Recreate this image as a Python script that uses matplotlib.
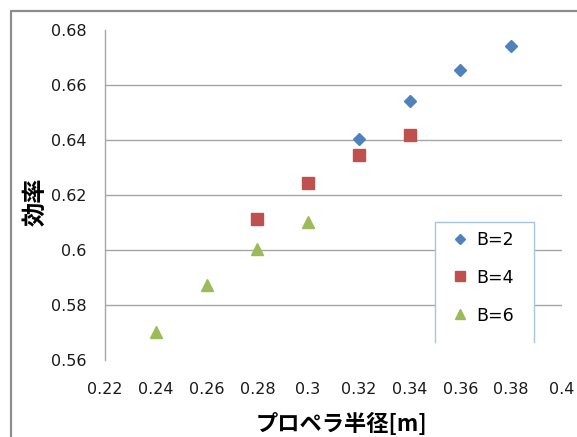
import matplotlib

matplotlib.use("Agg")
from matplotlib import pyplot as plt  # noqa: E402
from matplotlib.lines import Line2D  # noqa: E402
from matplotlib.patches import Rectangle  # noqa: E402

plt.rcParams["font.family"] = ["DejaVu Sans", "Noto Sans CJK JP"]

# efficiency vs. propeller radius, one series per blade count
radius_b2 = [0.32, 0.34, 0.36, 0.38]
eff_b2 = [0.6405, 0.6543, 0.6653, 0.6741]
radius_b4 = [0.28, 0.30, 0.32, 0.34]
eff_b4 = [0.6112, 0.6243, 0.6345, 0.6419]
radius_b6 = [0.24, 0.26, 0.28, 0.30]
eff_b6 = [0.5703, 0.5873, 0.6004, 0.6102]

series_labels = ["B=2", "B=4", "B=6"]
x_ticks = [0.22, 0.24, 0.26, 0.28, 0.30, 0.32, 0.34, 0.36, 0.38, 0.40]
x_tick_labels = ["0.22", "0.24", "0.26", "0.28", "0.3", "0.32", "0.34", "0.36", "0.38", "0.4"]
y_ticks = [0.56, 0.58, 0.60, 0.62, 0.64, 0.66, 0.68]
y_tick_labels = ["0.56", "0.58", "0.6", "0.62", "0.64", "0.66", "0.68"]

W, H = 577, 437
fig = plt.figure(figsize=(W / 100, H / 100), dpi=100)
ax = fig.add_axes([105 / W, 1 - 360 / H, 457 / W, 330 / H])

ax.set_xlim(x_ticks[0], x_ticks[-1])
ax.set_ylim(y_ticks[0], y_ticks[-1])

# inner horizontal gridlines only
ax.hlines(y_ticks[1:-1], x_ticks[0], x_ticks[-1], colors="#a6a6a6", linewidth=1.0, zorder=1)

ax.plot(radius_b2, eff_b2, linestyle="none", marker="D", ms=6.4, color="#4f81bd",
        label=series_labels[0], zorder=4)
ax.plot(radius_b4, eff_b4, linestyle="none", marker="s", ms=8.6, color="#c0504d",
        label=series_labels[1], zorder=4)
ax.plot(radius_b6, eff_b6, linestyle="none", marker="^", ms=9.0, color="#9bbb59",
        label=series_labels[2], zorder=4)

for side in ("top", "right", "bottom"):
    ax.spines[side].set_visible(False)
ax.spines["left"].set_color("#a6a6a6")
ax.spines["left"].set_linewidth(1.0)

ax.set_xticks(x_ticks, x_tick_labels)
ax.set_yticks(y_ticks, y_tick_labels)
ax.tick_params(axis="x", length=0, pad=16, labelsize=11.5, labelcolor="#1a1a1a")
ax.tick_params(axis="y", length=0, pad=13.5, labelsize=11.5, labelcolor="#1a1a1a")

cjk = ["Noto Sans CJK JP", "DejaVu Sans"]
ax.set_xlabel("プロペラ半径[m]", family=cjk, fontsize=16, fontweight="bold")
ax.xaxis.set_label_coords((341 - 105) / 457, (360 - 413) / 330)
ax.set_ylabel("効率", family=cjk, fontsize=17.5, fontweight="bold")
ax.yaxis.set_label_coords(-0.127, 0.48)

# legend box: white background, open at the bottom
lx0, lx1 = (435 - 105) / 457, (534 - 105) / 457
ly0, ly1 = (360 - 342) / 330, (360 - 222) / 330
ax.add_patch(Rectangle((lx0, ly0), lx1 - lx0, ly1 - ly0, transform=ax.transAxes,
                       facecolor="white", edgecolor="none", zorder=3))
ax.add_line(Line2D([lx0, lx0, lx1, lx1], [ly0, ly1, ly1, ly0], transform=ax.transAxes,
                   color="#a9c3e2", linewidth=1.0, zorder=3))
ax.legend(loc="upper left", bbox_to_anchor=(lx0 + 0.02, ly1 - 0.005), frameon=False,
          fontsize=12.5, markerscale=0.85, handlelength=1.0, handletextpad=0.45,
          labelspacing=1.15, borderaxespad=0.0)

# outer chart border, running off the right and bottom edges
fig.add_artist(Line2D([11 / W, 11 / W, 1.01], [-0.01, 1 - 11 / H, 1 - 11 / H],
                      transform=fig.transFigure, color="#8c8c8c", linewidth=1.6))

fig.savefig("out.png", dpi=100)
